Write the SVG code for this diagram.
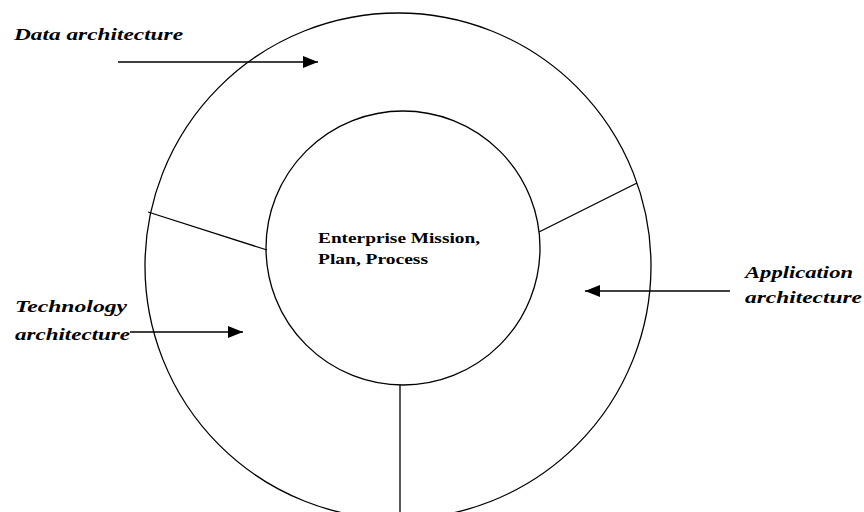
<svg xmlns="http://www.w3.org/2000/svg" width="864" height="512" viewBox="0 0 864 512">
<defs>
<style>
.ln{fill:none;stroke:#000;stroke-width:1.3}
.lbl{font-family:"Liberation Serif","DejaVu Serif",serif;font-style:italic;font-weight:bold;font-size:17px;fill:#000}
.ctr{font-family:"Liberation Serif","DejaVu Serif",serif;font-weight:bold;font-size:15px;fill:#000}
</style>
<marker id="ah" markerWidth="16" markerHeight="12" refX="15" refY="6" orient="auto" markerUnits="userSpaceOnUse">
<path d="M0,0 L15,6 L0,12 Z" fill="#000"/>
</marker>
</defs>
<rect width="864" height="512" fill="#fff"/>
<g id="outer-ring">
<circle class="ln" cx="398" cy="266" r="253"/>
</g>
<g id="inner-circle">
<circle class="ln" cx="403" cy="248" r="137"/>
<text class="ctr" x="318" y="243" textLength="162" lengthAdjust="spacingAndGlyphs">Enterprise Mission,</text>
<text class="ctr" x="318" y="264" textLength="110" lengthAdjust="spacingAndGlyphs">Plan, Process</text>
</g>
<g id="dividers">
<line class="ln" x1="148" y1="212" x2="267" y2="250"/>
<line class="ln" x1="539" y1="232" x2="637" y2="183"/>
<line class="ln" x1="400" y1="385" x2="400" y2="512"/>
</g>
<g id="data-label">
<text class="lbl" x="14" y="40" textLength="169" lengthAdjust="spacingAndGlyphs">Data architecture</text>
</g>
<g id="technology-label">
<text class="lbl" x="15" y="312" textLength="112" lengthAdjust="spacingAndGlyphs">Technology</text>
<text class="lbl" x="15" y="340" textLength="115" lengthAdjust="spacingAndGlyphs">architecture</text>
</g>
<g id="application-label">
<text class="lbl" x="745" y="278" textLength="108" lengthAdjust="spacingAndGlyphs">Application</text>
<text class="lbl" x="745" y="303" textLength="117" lengthAdjust="spacingAndGlyphs">architecture</text>
</g>
<g id="connectors">
<line class="ln" x1="118" y1="62" x2="318" y2="62" marker-end="url(#ah)"/>
<line class="ln" x1="130" y1="332" x2="243" y2="332" marker-end="url(#ah)"/>
<line class="ln" x1="730" y1="291" x2="585" y2="291" marker-end="url(#ah)"/>
</g>
</svg>
